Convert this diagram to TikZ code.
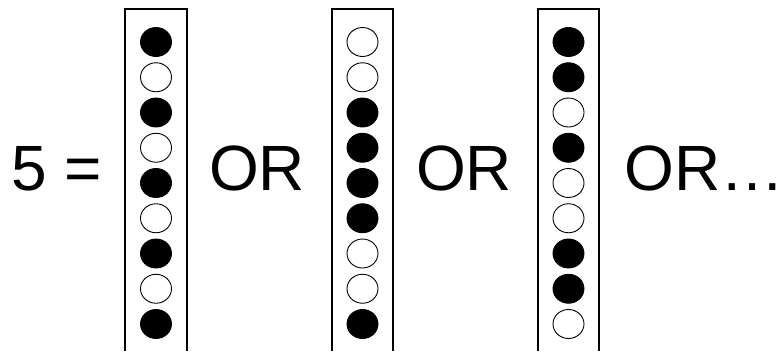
\documentclass[tikz,border=0pt]{standalone}
\usepackage{fontspec}
\setmainfont{Liberation Sans}
\usetikzlibrary{positioning,calc,shapes.geometric}

\begin{document}
\begin{tikzpicture}[x=1pt,y=-1pt,
	bead/.style={ellipse,draw,line width=0.9pt,minimum width=31pt,minimum height=29pt,inner sep=0pt},
	full/.style={bead,fill=black},
	empty/.style={bead,fill=white},
	word/.style={anchor=base west,inner sep=0pt,font=\fontsize{64}{72}\selectfont},
	frame/.style={line width=1.3pt}]
	\useasboundingbox (0,0) rectangle (784,351);
	
	% text
	\node[word] (five) at (11,190) {5 =};
	\node[word] (or1) at (209,190) {OR};
	\node[word] (or2) at (416,190) {OR};
	\node[word] (or3) at (624,190) {OR…};
	
	% first strip
	\draw[frame] (125,351) |- (187,9) -- (187,351);
	\foreach \kind [count=\i from 0] in {full,empty,full,empty,full,empty,full,empty,full}
		\node[\kind] (a\i) at (156,42+35.25*\i) {};
	
	% second strip
	\draw[frame] (332,351) |- (393,9) -- (393,351);
	\foreach \kind [count=\i from 0] in {empty,empty,full,full,full,full,empty,empty,full}
		\node[\kind] (b\i) at (362.5,42+35.25*\i) {};
	
	% third strip
	\draw[frame] (538,351) |- (599,9) -- (599,351);
	\foreach \kind [count=\i from 0] in {full,full,empty,full,empty,empty,full,full,empty}
		\node[\kind] (c\i) at (568.5,42+35.25*\i) {};
\end{tikzpicture}
\end{document}
